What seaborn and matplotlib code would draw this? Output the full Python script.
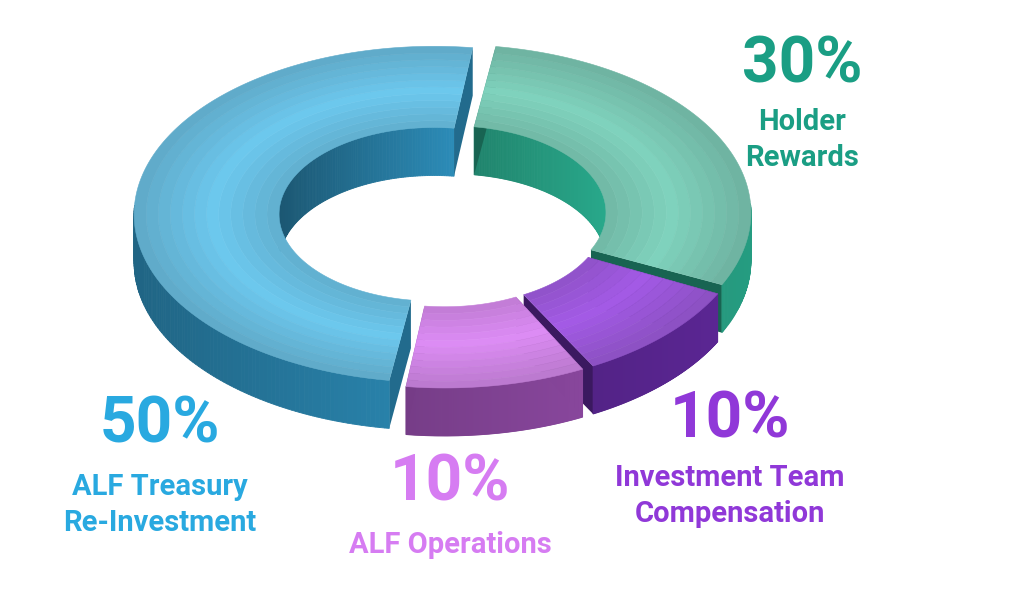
import numpy as np
import matplotlib
matplotlib.use("Agg")
import matplotlib.pyplot as plt
import seaborn as sns
from matplotlib.patches import Polygon
from matplotlib.colors import to_rgb

sns.set_theme(style="white")
plt.rcParams['font.family'] = ['Roboto', 'DejaVu Sans']

labels = ["Holder\nRewards", "Investment Team\nCompensation", "ALF Operations", "ALF Treasury\nRe-Investment"]
values = [30, 10, 10, 50]
top_colors = ["#7fd3bd", "#a35ae6", "#dd8cf5", "#6cc8ee"]
side_colors = ["#1e7d67", "#4a1f78", "#7a3f8c", "#2a86b0"]
text_colors = ["#1a9e84", "#9038d8", "#d67cf2", "#29a9e0"]
label_pos = [(802, 65, 122), (730, 420, 478), (450, 483, 545), (160, 425, 487)]

cx, cy = 443, 215
R, r = 300, 155
sy = 0.56
depth = 48
explode = 9
start = 82.0

fig = plt.figure(figsize=(10.24, 5.97), dpi=100)
ax = fig.add_axes([0, 0, 1, 1])
ax.set_xlim(0, 1024); ax.set_ylim(597, 0); ax.axis("off")

def pt(rad, th, ox, oy, dz=0):
    return (cx + ox + rad*np.cos(th), cy + oy - rad*sy*np.sin(th) + dz)

def shade(c, f):
    c = np.array(to_rgb(c))
    return tuple(np.clip(c*f, 0, 1))

angles = []
a = start
for v in values:
    span = v/sum(values)*360
    angles.append((a - span, a)); a -= span

wedges = []
for i, (a0, a1) in enumerate(angles):
    mid = np.radians((a0+a1)/2)
    ox, oy = explode*np.cos(mid), -explode*sy*np.sin(mid)
    th = np.radians(np.linspace(a0+0.6, a1-0.6, 200))
    wedges.append((i, th, ox, oy, np.sin(mid)))

# inner walls
for i, th, ox, oy, _ in wedges:
    for k in range(len(th)-1):
        t0, t1 = th[k], th[k+1]
        if np.sin((t0+t1)/2) <= 0: continue
        f = 0.85 + 0.35*np.cos((t0+t1)/2)
        col = shade(side_colors[i], f + 0.15)
        poly = [pt(r, t0, ox, oy), pt(r, t1, ox, oy), pt(r, t1, ox, oy, depth), pt(r, t0, ox, oy, depth)]
        ax.add_patch(Polygon(poly, closed=True, fc=col, ec=col, lw=0.6))

for i, th, ox, oy, s in sorted(wedges, key=lambda w: -w[4]):
    for t in (th[0], th[-1]):
        poly = [pt(r, t, ox, oy), pt(R, t, ox, oy), pt(R, t, ox, oy, depth), pt(r, t, ox, oy, depth)]
        ax.add_patch(Polygon(poly, closed=True, fc=shade(side_colors[i], 0.8), ec="none"))
    for k in range(len(th)-1):
        t0, t1 = th[k], th[k+1]
        if np.sin((t0+t1)/2) >= 0.05: continue
        f = 0.75 + 0.5*(np.cos((t0+t1)/2)+1)/2
        col = shade(side_colors[i], f)
        poly = [pt(R, t0, ox, oy), pt(R, t1, ox, oy), pt(R, t1, ox, oy, depth), pt(R, t0, ox, oy, depth)]
        ax.add_patch(Polygon(poly, closed=True, fc=col, ec=col, lw=0.6))
    n = 12
    for j in range(n):
        r0 = r + (R-r)*j/n; r1 = r + (R-r)*(j+1)/n
        g = 1 - abs((j+0.5)/n - 0.45)*0.35
        outer = [pt(r1, t, ox, oy) for t in th]
        inner = [pt(r0, t, ox, oy) for t in th[::-1]]
        col = tuple(np.clip(np.array(to_rgb(top_colors[i]))*g + (1-g)*0.15, 0, 1))
        ax.add_patch(Polygon(outer+inner, closed=True, fc=col, ec=col, lw=0.4))

for i in range(len(values)):
    x, y1, y2 = label_pos[i]
    ax.text(x, y1, f"{values[i]}%", ha="center", va="center", fontsize=46, fontweight="bold", color=text_colors[i])
    for k, line in enumerate(labels[i].split("\n")):
        ax.text(x, y2 + k*36, line, ha="center", va="center", fontsize=21, fontweight="bold", color=text_colors[i])

fig.savefig("out.png", dpi=100, facecolor="white")
